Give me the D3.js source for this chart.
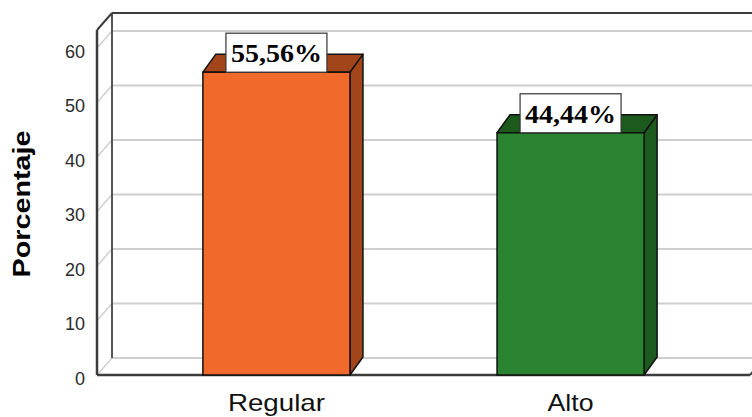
<!DOCTYPE html>
<html>
<head>
<meta charset="utf-8">
<script src="https://cdn.jsdelivr.net/npm/d3@7"></script>
<style>
  html, body { margin: 0; padding: 0; background: #fff; }
  svg { display: block; }
</style>
</head>
<body>
<svg id="chart" width="752" height="417"></svg>
<script>
// Data
const categories = ["Regular", "Alto"];
const values = [55.56, 44.44];
const valueLabels = ["55,56%", "44,44%"];
const yTicks = [0, 10, 20, 30, 40, 50, 60];
const frontColors = ["#f26a2b", "#2a8330"];
const darkColors = ["#a3451b", "#1d5a1e"];

(function () {
  const svg = d3.select("#chart");
  const W = 752;

  // Plot frame (front plane) and 3D depth offsets
  const plotLeft = 97, plotRight = 750, plotBottom = 375, plotTop = 30;
  const depthX = 15, depthY = 17;     // back wall offset
  const barDX = 13, barDY = 18;       // bar depth

  const y = d3.scaleLinear().domain([0, 63.3]).range([plotBottom, plotTop]);
  const x = d3.scaleBand().domain(categories).range([plotLeft, plotRight])
    .paddingInner(0.5).paddingOuter(0.36);

  const g = svg.append("g");

  // Back wall gridlines and the short diagonals linking them to the front axis
  yTicks.forEach(t => {
    const yf = y(t), yb = y(t) - depthY;
    g.append("line").attr("x1", plotLeft + depthX).attr("x2", W + 20)
      .attr("y1", yb).attr("y2", yb)
      .attr("stroke", "#cfcfcf").attr("stroke-width", 2);
    g.append("line").attr("x1", plotLeft).attr("y1", yf)
      .attr("x2", plotLeft + depthX).attr("y2", yb)
      .attr("stroke", "#cfcfcf").attr("stroke-width", 1.5);
  });

  // Frame edges
  const frame = "#3c3c3c";
  const topBack = y.range()[1] - depthY;
  g.append("line").attr("x1", plotLeft + depthX).attr("x2", plotLeft + depthX)
    .attr("y1", topBack).attr("y2", y(0) - depthY)
    .attr("stroke", "#555").attr("stroke-width", 2);
  g.append("line").attr("x1", plotLeft + depthX).attr("x2", W + 20)
    .attr("y1", topBack).attr("y2", topBack)
    .attr("stroke", frame).attr("stroke-width", 2);
  g.append("line").attr("x1", plotLeft).attr("y1", plotTop)
    .attr("x2", plotLeft + depthX).attr("y2", topBack)
    .attr("stroke", frame).attr("stroke-width", 2);
  g.append("line").attr("x1", plotLeft).attr("x2", plotLeft)
    .attr("y1", plotTop).attr("y2", plotBottom)
    .attr("stroke", frame).attr("stroke-width", 2.5);
  g.append("line").attr("x1", plotLeft).attr("x2", plotRight)
    .attr("y1", plotBottom).attr("y2", plotBottom)
    .attr("stroke", frame).attr("stroke-width", 2.5);
  g.append("line").attr("x1", plotRight).attr("y1", plotBottom)
    .attr("x2", plotRight + depthX).attr("y2", plotBottom - depthY)
    .attr("stroke", frame).attr("stroke-width", 2);

  // Y tick labels
  g.selectAll("text.tick").data(yTicks).enter().append("text")
    .attr("class", "tick")
    .attr("x", 85).attr("y", d => y(d) + 4)
    .attr("text-anchor", "end").attr("dominant-baseline", "central")
    .attr("font-family", "Liberation Sans, Arial, sans-serif")
    .attr("font-size", 18).attr("fill", "#2b2b2b")
    .text(d => d);

  // Y axis title
  svg.append("text")
    .attr("transform", "translate(30,204) rotate(-90)")
    .attr("text-anchor", "middle")
    .attr("font-family", "Liberation Sans, Arial, sans-serif")
    .attr("font-weight", "bold").attr("font-size", 23)
    .attr("textLength", 147).attr("lengthAdjust", "spacingAndGlyphs")
    .attr("fill", "#000")
    .text("Porcentaje");

  // 3D bars
  const bars = g.selectAll("g.bar").data(categories).enter().append("g").attr("class", "bar");
  bars.each(function (c, i) {
    const b = d3.select(this);
    const bx = x(c), bw = x.bandwidth(), yv = y(values[i]), y0 = y(0);
    b.append("polygon")
      .attr("points", [[bx + bw, yv], [bx + bw + barDX, yv - barDY], [bx + bw + barDX, y0 - barDY], [bx + bw, y0]].join(" "))
      .attr("fill", darkColors[i]).attr("stroke", "#111").attr("stroke-width", 1.5)
      .attr("stroke-linejoin", "round");
    b.append("polygon")
      .attr("points", [[bx, yv], [bx + barDX, yv - barDY], [bx + bw + barDX, yv - barDY], [bx + bw, yv]].join(" "))
      .attr("fill", darkColors[i]).attr("stroke", "#111").attr("stroke-width", 1.5)
      .attr("stroke-linejoin", "round");
    b.append("rect")
      .attr("x", bx).attr("y", yv).attr("width", bw).attr("height", y0 - yv)
      .attr("fill", frontColors[i]).attr("stroke", "#111").attr("stroke-width", 1.5);

    // Value label box
    const cx = bx + bw / 2, boxW = 101, boxH = 39;
    b.append("rect")
      .attr("x", cx - boxW / 2).attr("y", yv - boxH).attr("width", boxW).attr("height", boxH)
      .attr("fill", "#fff").attr("stroke", "#333").attr("stroke-width", 1.2);
    b.append("text")
      .attr("x", cx).attr("y", yv - boxH / 2 + 1)
      .attr("text-anchor", "middle").attr("dominant-baseline", "central")
      .attr("font-family", "Liberation Serif, Times New Roman, serif")
      .attr("font-weight", "bold").attr("font-size", 25)
      .attr("textLength", 91).attr("lengthAdjust", "spacingAndGlyphs")
      .attr("fill", "#000")
      .text(valueLabels[i]);
  });

  // Category labels
  g.selectAll("text.cat").data(categories).enter().append("text")
    .attr("class", "cat")
    .attr("x", d => x(d) + x.bandwidth() / 2).attr("y", 411)
    .attr("text-anchor", "middle")
    .attr("font-family", "Liberation Sans, Arial, sans-serif")
    .attr("font-size", 24).attr("fill", "#111")
    .attr("textLength", (d, i) => i === 0 ? 97 : 46).attr("lengthAdjust", "spacingAndGlyphs")
    .text(d => d);
})();
</script>
</body>
</html>
